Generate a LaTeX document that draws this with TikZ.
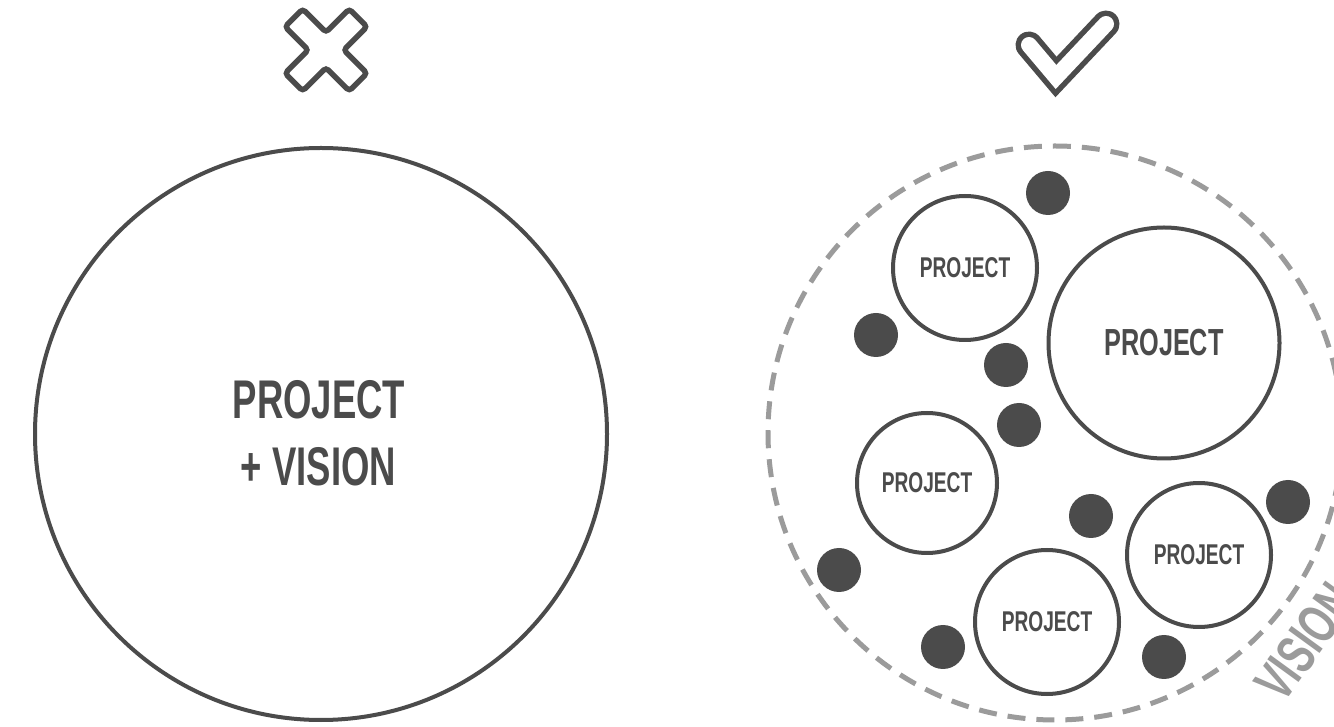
\documentclass[tikz,border=0pt]{standalone}
\usepackage{fontspec}
\newfontfamily\cond{Liberation Sans}[FakeStretch=0.67]
\definecolor{darkg}{HTML}{4B4B4B}
\definecolor{lightg}{HTML}{9B9B9B}
\begin{document}
\begin{tikzpicture}[x=1pt,y=1pt,
  ring/.style={circle, draw=darkg, line width=4, inner sep=0, text=darkg, font=\cond\bfseries\fontsize{28.6}{30}\selectfont},
  dotnode/.style={circle, fill=darkg, minimum size=44, inner sep=0},
  bigtext/.style={text=darkg, font=\cond\bfseries\fontsize{54.5}{60}\selectfont, inner sep=0, anchor=base},
  iconline/.style={draw=darkg, line width=5.5}
]
\clip (0,0) rectangle (1334,726);
\fill[white] (0,0) rectangle (1334,726);

% cross icon
\begin{scope}[shift={(326,676)}, rotate=45]
  \draw[iconline, rounded corners=3.5]
    (45.5,12.5) -- (12.5,12.5) -- (12.5,45.5) -- (-12.5,45.5) -- (-12.5,12.5) -- (-45.5,12.5) --
    (-45.5,-12.5) -- (-12.5,-12.5) -- (-12.5,-45.5) -- (12.5,-45.5) -- (12.5,-12.5) -- (45.5,-12.5) -- cycle;
\end{scope}

% check icon
\coordinate (ck1) at (1029,681);
\coordinate (ck2) at (1056,649);
\coordinate (ck3) at (1106,702);
\draw[darkg, line width=27, line cap=round, line join=miter] (ck1) -- (ck2) -- (ck3);
\draw[white, line width=16, line cap=round, line join=miter] (ck1) -- (ck2) -- (ck3);

% left big circle
\node[circle, draw=darkg, line width=4, minimum size=572, inner sep=0] (big) at (321,292) {};
\node[bigtext] (lt1) at (319,307) {PROJECT};
\node[bigtext] (lt2) at (318.5,240) {+ VISION};

% right: vision circle
\node[circle, draw=lightg, line width=5, dash pattern=on 18 off 11, minimum size=574, inner sep=0] (vis) at (1055,293) {};
\node[rotate=54, text=lightg, font=\cond\bfseries\fontsize{56}{60}\selectfont, inner sep=0] (vt) at (1305,84) {VISION};

% project circles
\node[ring, minimum size=144] (p1) at (965,458) {PROJECT};
\node[ring, minimum size=231, font=\cond\bfseries\fontsize{37.7}{40}\selectfont] (p2) at (1164,383) {PROJECT};
\node[ring, minimum size=140] (p3) at (927,243) {PROJECT};
\node[ring, minimum size=144] (p4) at (1199,171) {PROJECT};
\node[ring, minimum size=144] (p5) at (1047,104) {PROJECT};

% dots
\node[dotnode] (d1) at (1048,533) {};
\node[dotnode] (d2) at (876,391) {};
\node[dotnode] (d3) at (1006,361) {};
\node[dotnode] (d4) at (1019,301) {};
\node[dotnode] (d5) at (1091,210) {};
\node[dotnode] (d6) at (1288,224) {};
\node[dotnode] (d7) at (839,156) {};
\node[dotnode] (d8) at (943,79) {};
\node[dotnode] (d9) at (1164,69) {};
\end{tikzpicture}
\end{document}
